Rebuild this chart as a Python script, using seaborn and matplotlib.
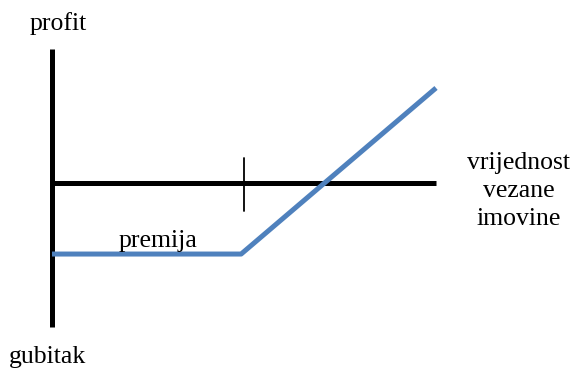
import matplotlib
matplotlib.use('Agg')
import matplotlib.pyplot as plt
import seaborn as sns
import pandas as pd

# ----------------------------------------------------------------------------
# Data: long call payoff (strike at 10, premium paid 3.7)
# ----------------------------------------------------------------------------
price = [0, 9.85, 20]
payoff = [-3.7, -3.7, 4.95]
strike = 10
x_axis_end = 20
y_axis_top = 7.0
y_axis_bottom = -7.5

df = pd.DataFrame({'price': price, 'payoff': payoff})

sns.set_style('white')
plt.rcParams['font.family'] = ['Liberation Serif', 'DejaVu Serif']
plt.rcParams['text.color'] = 'black'

fig = plt.figure(figsize=(5.76, 3.69), dpi=100)
ax = fig.add_axes([0, 0, 1, 1])

# axes of the diagram
ax.plot([0, x_axis_end], [0, 0], color='black', lw=3.6, solid_capstyle='butt')
ax.plot([0, 0], [y_axis_bottom, y_axis_top], color='black', lw=3.6, solid_capstyle='butt')
ax.plot([strike, strike], [-1.45, 1.3], color='black', lw=1.3)

# payoff line
sns.lineplot(data=df, x='price', y='payoff', ax=ax, color='#4F81BD', lw=3.6,
             sort=False, solid_capstyle='butt')

# labels
fs = 18.5
ax.text(0.3, 8.3, 'profit', ha='center', va='center', fontsize=fs)
ax.text(-0.25, -9.05, 'gubitak', ha='center', va='center', fontsize=fs)
ax.text(5.5, -3.0, 'premija', ha='center', va='center', fontsize=fs)
ax.text(24.3, -0.4, 'vrijednost\nvezane\nimovine', ha='center', va='center',
        fontsize=fs, linespacing=1.36)

ax.set_xlim(-2.708, 27.29)
ax.set_ylim(-9.6875, 9.531)
ax.axis('off')

plt.savefig('out.png', dpi=100)
